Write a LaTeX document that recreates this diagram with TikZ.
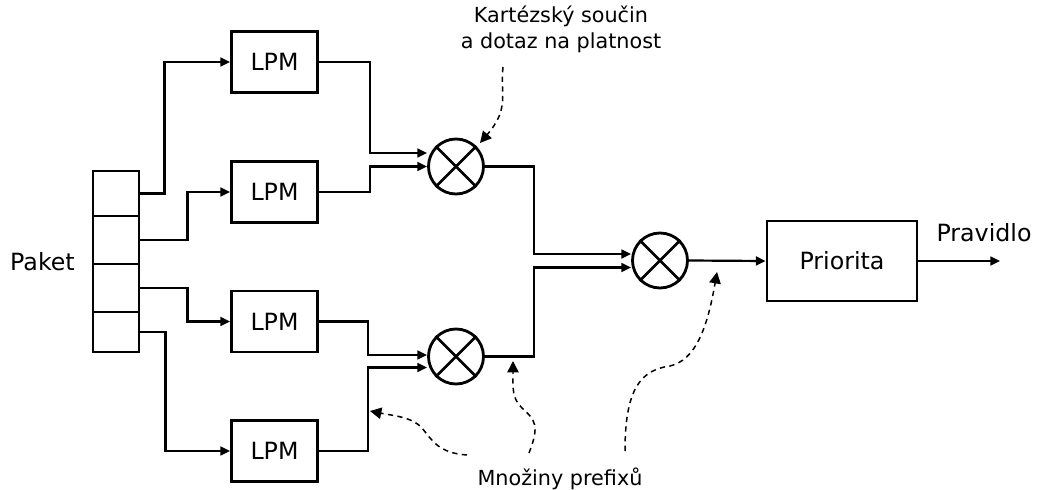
\documentclass[tikz,border=0pt]{standalone}
\usepackage{fontspec}
\setmainfont{DejaVu Sans}
\usetikzlibrary{arrows.meta,calc}
\begin{document}
\begin{tikzpicture}[x=0.02cm,y=-0.02cm,
  mainfont/.style={font=\fontsize{13.5}{16}\selectfont},
  lbl/.style={font=\fontsize{11.8}{14.4}\selectfont},
  box/.style={draw,line width=1.6pt,inner sep=0pt,minimum width=86*0.02cm,minimum height=61*0.02cm,mainfont},
  cell/.style={draw,line width=1.6pt,inner sep=0pt,minimum width=46*0.02cm},
  mult/.style={draw,circle,line width=1.6pt,minimum size=55*0.02cm,inner sep=0pt},
  conn/.style={line width=1.25pt,-{Triangle[length=5.5pt,width=5pt]}},
  note/.style={line width=0.85pt,dash pattern=on 3pt off 2.5pt,-{Triangle[length=6.5pt,width=6.5pt]}}]
\useasboundingbox (0,0) rectangle (1039,490);

% packet
\node[cell,minimum height=45*0.02cm] (p1) at (116,193.5) {};
\node[cell,minimum height=48*0.02cm] (p2) at (116,240) {};
\node[cell,minimum height=48*0.02cm] (p3) at (116,288) {};
\node[cell,minimum height=40*0.02cm] (p4) at (116,332) {};
\node[mainfont,anchor=base,inner sep=0pt] (paket) at (42.5,270) {Paket};

% LPM boxes
\node[box] (l1) at (274.5,62) {LPM};
\node[box] (l2) at (274.5,192) {LPM};
\node[box] (l3) at (274.5,321.5) {LPM};
\node[box] (l4) at (274.5,451) {LPM};

% multipliers
\node[mult] (c1) at (456,166.5) {};
\node[mult] (c2) at (456,356.5) {};
\node[mult] (c3) at (660,260.5) {};
\foreach \c in {c1,c2,c3}{
  \draw[line width=1.5pt] (\c.north west) -- (\c.south east) (\c.north east) -- (\c.south west);
}

% priority
\node[box,minimum width=150*0.02cm,minimum height=80*0.02cm] (pr) at (842,261) {Priorita};
\coordinate (out) at (1000,261);
\node[mainfont,anchor=base,inner sep=0pt] (pravidlo) at (984,241.5) {Pravidlo};

% connectors
\draw[conn] (p1.east) -- ++(24,0) |- (l1.west);
\draw[conn] (p2.east) -- ++(47,0) |- (l2.west);
\draw[conn] (p3.east) -- ++(47,0) |- (l3.west);
\draw[conn] (p4.east) -- ++(25,0) |- (l4.west);

\draw[conn] (l1.east) -- ++(51,0) |- ([yshift=0.27cm]c1.west);
\draw[conn] (l2.east) -- ++(51,0) |- (c1.west);
\draw[conn] (l3.east) -- ++(49,0) |- ([yshift=0.03cm]c2.west);
\draw[conn] (l4.east) -- ++(49,0) |- ([yshift=-0.22cm]c2.west);

\draw[conn] (c1.east) -- ++(49,0) |- ([yshift=0.13cm]c3.west);
\draw[conn] (c2.east) -- ++(49,0) |- ([yshift=-0.14cm]c3.west);
\draw[conn] (c3.east) -- (pr.west);
\draw[conn] (pr.east) -- (out);

% labels
\node[lbl,align=center,anchor=north,inner sep=0pt] (kart) at (561,6) {Kartézský součin\\a dotaz na platnost};
\node[lbl,anchor=base,inner sep=0pt] (mnoz) at (560,485) {Množiny prefixů};

% dashed annotation arrows
\coordinate (k0) at (503,67);
\coordinate (k1) at (480,143);
\draw[note] (k0) .. controls (500,95) and (510,108) .. (k1);

\coordinate (a0) at (467,455);
\coordinate (a1) at (370,411);
\draw[note] (a0) .. controls (438,453) and (432,440) .. (422,428) .. controls (412,417) and (395,416) .. (a1);

\coordinate (b0) at (529,453);
\coordinate (b1) at (513,361);
\draw[note] (b0) .. controls (540,425) and (535,420) .. (522,408) .. controls (512,398) and (513,390) .. (b1);

\coordinate (d0) at (625,451);
\coordinate (d1) at (717,272);
\draw[note] (d0) .. controls (625,390) and (640,370) .. (670,366) .. controls (695,360) and (707,330) .. (d1);
\end{tikzpicture}
\end{document}
